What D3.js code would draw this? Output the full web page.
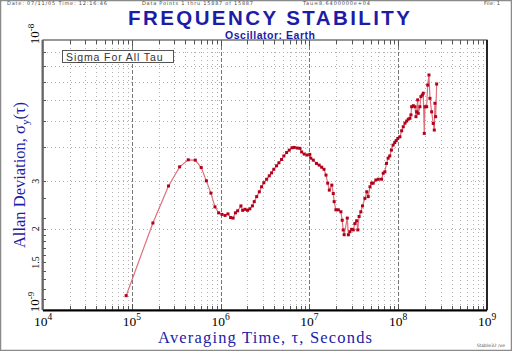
<!DOCTYPE html>
<html>
<head>
<meta charset="utf-8">
<script src="https://cdn.jsdelivr.net/npm/d3@7"></script>
<style>
  body { margin: 0; background: #fff; }
  svg { display: block; }
</style>
</head>
<body>
<div id="chart"></div>
<script>
let width = 512,
    height = 351,
    margin = ({ top: 40, right: 25, bottom: 41, left: 43 });

// averaging factors (tau = n * tau0) and sigma in units of 1e-9
const tau0 = 86400;
const avgFactor = [1, 2, 3, 4, 5, 6, 7, 8, 9, 10, 11, 12, 13, 14, 15, 16, 17, 18, 19.6, 20.5,
  21.8, 23.3, 24.7, 26.4, 27.7, 29.5, 31.6, 33.5, 35.5, 38.2, 40.9, 43.4, 46, 49.4, 52.5, 56.2,
  59.7, 64.1, 68.6, 73.6, 78.2, 84.5, 90.5, 94.6, 101, 109, 117, 120, 128, 139, 149, 159, 169,
  178, 186, 194, 207, 215, 220, 230, 245, 262, 271, 278, 285, 309, 318, 331, 346, 361, 376, 394,
  406, 420, 439, 459, 488, 512, 532, 557, 581, 605, 648, 691, 752, 785, 819, 855, 891, 930, 970,
  1013, 1058, 1101, 1146, 1211, 1266, 1320, 1380, 1442, 1503, 1570, 1611, 1640, 1711, 1787, 1835,
  1868, 1917, 1947, 2033, 2087, 2160, 2217, 2275, 2317, 2421, 2485, 2570, 2637, 2755, 2871, 2951,
  3000, 3055, 3140];
const sigmaVals = [1.13, 2.10, 2.88, 3.39, 3.60, 3.59, 3.37, 3.01, 2.71, 2.41, 2.29, 2.26, 2.24, 2.27, 2.20, 2.19, 2.29, 2.33, 2.43, 2.34,
  2.36, 2.34, 2.37, 2.43, 2.52, 2.63, 2.74, 2.86, 2.96, 3.05, 3.14, 3.22, 3.32, 3.42, 3.51, 3.61,
  3.72, 3.83, 3.91, 3.99, 4.00, 3.98, 3.97, 3.85, 3.78, 3.75, 3.77, 3.65, 3.59, 3.49, 3.44, 3.38, 3.32,
  3.16, 2.95, 2.78, 2.90, 2.70, 2.52, 2.35, 2.35, 2.31, 2.15, 1.98, 1.90, 2.19, 1.90, 1.95, 1.99, 1.98, 2.09, 2.14,
  1.98, 2.22, 2.31, 2.43, 2.59, 2.74, 2.63, 2.86, 2.95, 2.95, 3.03, 3.05, 3.05, 3.21, 3.25, 3.49, 3.65, 3.72, 3.91,
  4.08, 4.17, 4.24, 4.32, 4.38, 4.61, 4.77, 4.92, 5.01, 5.09, 5.13, 5.28, 5.66, 5.71, 5.66, 5.20,
  5.42, 6.00, 5.35, 5.66, 6.17, 6.25, 6.35, 4.51, 5.66, 5.66, 6.81, 7.42, 6.08, 5.42, 4.91, 4.64,
  5.83, 5.20, 6.87];

const xTickExps = [4, 5, 6, 7, 8, 9];
const yGridMult = [2, 3, 4, 5, 6, 7, 8, 9];
const yMinorMult = [1.1, 1.2, 1.3, 1.4, 1.5, 1.6, 1.7, 1.8, 1.9, 2.2, 2.6];
const yLabels = [{ v: 3, t: "3" }, { v: 2, t: "2" }, { v: 1.5, t: "1.5" }];

const data = avgFactor.map((n, i) => ({ tau: n * tau0, sigma: sigmaVals[i] * 1e-9 }));

const blue = "#1c1ca8";

const svg = d3.select("#chart")
  .append("svg")
  .attr("width", width)
  .attr("height", height)
  .attr("viewBox", [0, 0, width, height]);

svg.append("rect") // outer frame
  .attr("x", 0.5).attr("y", 0.5)
  .attr("width", width - 1).attr("height", height - 1)
  .attr("fill", "#fff").attr("stroke", "#8a8a8a").attr("stroke-width", 1.5);

let x = d3.scaleLog()
  .domain([1e4, 1e9])
  .range([margin.left, width - margin.right]);

let y = d3.scaleLog()
  .domain([1e-9, 1e-8])
  .range([height - margin.bottom, margin.top]);

const x0 = x.range()[0], x1 = x.range()[1], yb = y.range()[0], yt = y.range()[1];

// vertical grid
let xMinor = [];
xTickExps.slice(0, -1).forEach(e => { for (let m = 2; m <= 9; m++) xMinor.push(m * Math.pow(10, e)); });
let xMajor = xTickExps.slice(1, -1).map(e => Math.pow(10, e));

svg.append("g")
  .selectAll("line")
  .data(xMinor)
  .join("line")
  .attr("x1", d => Math.round(x(d)) + 0.5).attr("x2", d => Math.round(x(d)) + 0.5)
  .attr("y1", yt).attr("y2", yb)
  .attr("stroke", "#b0b0b0").attr("stroke-dasharray", "1,3");

svg.append("g")
  .selectAll("line")
  .data(xMajor)
  .join("line")
  .attr("x1", d => Math.round(x(d)) + 0.5).attr("x2", d => Math.round(x(d)) + 0.5)
  .attr("y1", yt).attr("y2", yb)
  .attr("stroke", "#777").attr("stroke-dasharray", "4,2");

// horizontal grid
svg.append("g")
  .selectAll("line")
  .data(yGridMult)
  .join("line")
  .attr("x1", x0).attr("x2", x1)
  .attr("y1", d => Math.round(y(d * 1e-9)) + 0.5).attr("y2", d => Math.round(y(d * 1e-9)) + 0.5)
  .attr("stroke", "#b0b0b0").attr("stroke-dasharray", "1,3");

// ticks on top and bottom
const allX = xMinor.concat(xMajor);
svg.append("g")
  .selectAll("line")
  .data(allX)
  .join("line")
  .attr("x1", d => Math.round(x(d)) + 0.5).attr("x2", d => Math.round(x(d)) + 0.5)
  .attr("y1", yt).attr("y2", d => yt + (xMajor.includes(d) ? 6 : 4))
  .attr("stroke", "#555");
svg.append("g")
  .selectAll("line")
  .data(allX)
  .join("line")
  .attr("x1", d => Math.round(x(d)) + 0.5).attr("x2", d => Math.round(x(d)) + 0.5)
  .attr("y1", yb).attr("y2", d => yb - (xMajor.includes(d) ? 6 : 4))
  .attr("stroke", "#555");

// minor ticks on left
svg.append("g")
  .selectAll("line")
  .data(yMinorMult.concat(yGridMult))
  .join("line")
  .attr("x1", x0).attr("x2", x0 + 3)
  .attr("y1", d => Math.round(y(d * 1e-9)) + 0.5).attr("y2", d => Math.round(y(d * 1e-9)) + 0.5)
  .attr("stroke", "#555");

// plot frame
svg.append("rect")
  .attr("x", x0).attr("y", yt)
  .attr("width", x1 - x0).attr("height", yb - yt)
  .attr("fill", "none").attr("stroke", "#555").attr("stroke-width", 1.2);
svg.append("line")
  .attr("x1", x0).attr("x2", x1).attr("y1", yb + 0.5).attr("y2", yb + 0.5)
  .attr("stroke", "#000").attr("stroke-width", 2);
svg.append("line")
  .attr("x1", x0 - 0.5).attr("x2", x0 - 0.5).attr("y1", yt).attr("y2", yb)
  .attr("stroke", "#666").attr("stroke-width", 2);
svg.append("line")
  .attr("x1", x1).attr("x2", x1).attr("y1", yt).attr("y2", yb)
  .attr("stroke", "#000").attr("stroke-width", 1.5);

// legend box
svg.append("rect")
  .attr("x", 62.5).attr("y", 50.5).attr("width", 111).attr("height", 12)
  .attr("fill", "#fff").attr("stroke", "#555");
svg.append("text")
  .attr("x", 66).attr("y", 60.5)
  .attr("font-family", "Liberation Sans, Arial, sans-serif")
  .attr("font-size", 10.5)
  .attr("letter-spacing", 0.9)
  .attr("fill", "#333")
  .text("Sigma For All Tau");

// data line + points
const line = d3.line()
  .x(d => x(d.tau))
  .y(d => y(d.sigma));

svg.append("path")
  .datum(data)
  .attr("d", line)
  .attr("fill", "none")
  .attr("stroke", "#e0707c")
  .attr("stroke-width", 1.2);

svg.append("g")
  .attr("fill", "#b3001b")
  .selectAll("rect")
  .data(data)
  .join("rect")
  .attr("x", d => x(d.tau) - 1.5)
  .attr("y", d => y(d.sigma) - 1.5)
  .attr("width", 3)
  .attr("height", 3);

// x tick labels
const xl = svg.append("g")
  .attr("font-family", "Liberation Serif, Times New Roman, serif")
  .attr("fill", "#000");
xTickExps.forEach(e => {
  const t = xl.append("text")
    .attr("x", x(Math.pow(10, e)))
    .attr("y", 326)
    .attr("text-anchor", "middle")
    .attr("font-size", 13.5);
  t.append("tspan").text("10");
  t.append("tspan").attr("dy", -6).attr("font-size", 9.5).text(e);
});

// y tick labels (rotated)
function rotText(px, py, size) {
  return svg.append("text")
    .attr("transform", `translate(${px},${py}) rotate(-90)`)
    .attr("text-anchor", "middle")
    .attr("font-family", "Liberation Serif, Times New Roman, serif")
    .attr("font-size", size)
    .attr("fill", "#000");
}
const topL = rotText(39, y(1e-8) - 6, 13);
topL.append("tspan").text("10");
topL.append("tspan").attr("dy", -5).attr("font-size", 9).text("-8");
const botL = rotText(39, y(1e-9) - 8, 13);
botL.append("tspan").text("10");
botL.append("tspan").attr("dy", -5).attr("font-size", 9).text("-9");
yLabels.forEach(d => {
  rotText(39, y(d.v * 1e-9), 10).text(d.t);
});

// axis titles
const yt1 = svg.append("text")
  .attr("transform", `translate(25,${(yt + yb) / 2}) rotate(-90)`)
  .attr("text-anchor", "middle")
  .attr("font-family", "Liberation Serif, Times New Roman, serif")
  .attr("font-size", 16.5)
  .attr("fill", blue);
yt1.append("tspan").text("Allan Deviation, σ");
yt1.append("tspan").attr("dy", 4).attr("font-size", 11).text("y");
yt1.append("tspan").attr("dy", -4).text("(τ)");

svg.append("text")
  .attr("x", 265).attr("y", 343)
  .attr("text-anchor", "middle")
  .attr("font-family", "Liberation Serif, Times New Roman, serif")
  .attr("font-size", 16.5)
  .attr("textLength", 214)
  .attr("fill", blue)
  .text("Averaging Time, τ, Seconds");

// titles
svg.append("text")
  .attr("x", 269).attr("y", 25)
  .attr("text-anchor", "middle")
  .attr("font-family", "Liberation Sans, Arial, sans-serif")
  .attr("font-weight", "bold")
  .attr("font-size", 20.5)
  .attr("textLength", 282)
  .attr("fill", blue)
  .text("FREQUENCY STABILITY");

svg.append("text")
  .attr("x", 270).attr("y", 39)
  .attr("text-anchor", "middle")
  .attr("font-family", "Liberation Sans, Arial, sans-serif")
  .attr("font-weight", "bold")
  .attr("font-size", 10.5)
  .attr("textLength", 90)
  .attr("fill", blue)
  .text("Oscillator: Earth");

// header strip
const hdr = svg.append("g")
  .attr("font-family", "DejaVu Sans, sans-serif")
  .attr("font-size", 5)
  .attr("fill", "#444");
hdr.append("text").attr("x", 7).attr("y", 5.2).attr("textLength", 100).text("Date: 07/11/05   Time: 12:16:46");
hdr.append("text").attr("x", 142).attr("y", 5.2).attr("textLength", 111).text("Data Points 1 thru 15887 of 15887");
hdr.append("text").attr("x", 303).attr("y", 5.2).attr("textLength", 67).text("Tau=8.6400000e+04");
hdr.append("text").attr("x", 484).attr("y", 5.2).attr("textLength", 16).text("File: 1");

svg.append("text")
  .attr("x", 505).attr("y", 347)
  .attr("text-anchor", "end")
  .attr("font-family", "DejaVu Sans, sans-serif")
  .attr("font-size", 4.5)
  .attr("fill", "#555")
  .text("Stable32 /ve");
</script>
</body>
</html>
